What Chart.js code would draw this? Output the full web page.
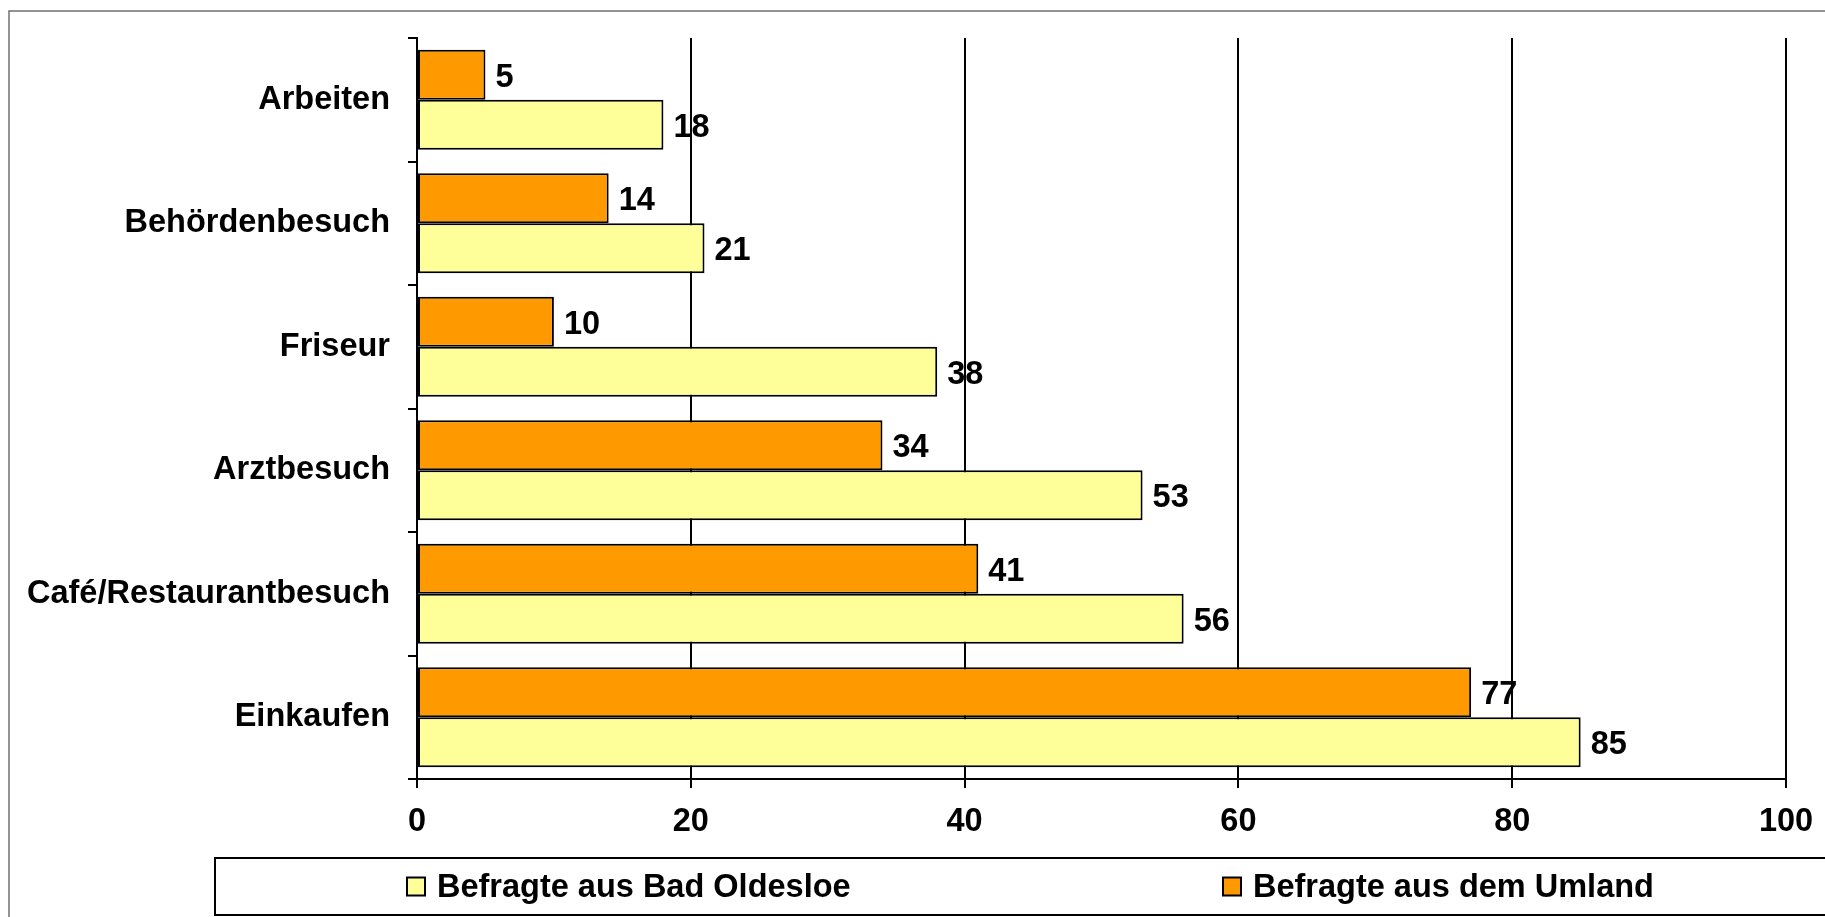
<!DOCTYPE html>
<html>
<head>
<meta charset="utf-8">
<title>Befragte</title>
<script src="https://cdn.jsdelivr.net/npm/chart.js@4/dist/chart.umd.min.js"></script>
<style>
  html, body { margin: 0; padding: 0; background: #fff; overflow: hidden; }
  canvas { display: block; }
</style>
</head>
<body>
<canvas id="chart" width="1825" height="917"></canvas>
<script>
const categories = ["Arbeiten", "Behördenbesuch", "Friseur", "Arztbesuch", "Café/Restaurantbesuch", "Einkaufen"];
const umlandValues = [5, 14, 10, 34, 41, 77];
const oldesloeValues = [18, 21, 38, 53, 56, 85];
const seriesNames = ["Befragte aus dem Umland", "Befragte aus Bad Oldesloe"];
const xTicks = [0, 20, 40, 60, 80, 100];

const FAMILY = "'Liberation Sans', Arial, sans-serif";
const FONT = "bold 32.5px " + FAMILY;

// outer frame (like the pasted Excel chart border)
const framePlugin = {
  id: "frame",
  beforeDraw(chart) {
    const ctx = chart.ctx;
    ctx.save();
    ctx.fillStyle = "#fff";
    ctx.fillRect(0, 0, chart.width, chart.height);
    ctx.strokeStyle = "#707070";
    ctx.lineWidth = 1.5;
    ctx.beginPath();
    ctx.moveTo(9, chart.height + 2);
    ctx.lineTo(9, 11);
    ctx.lineTo(chart.width + 2, 11);
    ctx.stroke();
    ctx.restore();
  }
};

// value labels at the end of every bar
const valueLabels = {
  id: "valueLabels",
  afterDatasetsDraw(chart) {
    const ctx = chart.ctx;
    ctx.save();
    ctx.font = FONT;
    ctx.fillStyle = "#000";
    ctx.textAlign = "left";
    ctx.textBaseline = "middle";
    chart.data.datasets.forEach((ds, i) => {
      chart.getDatasetMeta(i).data.forEach((bar, j) => {
        ctx.fillText(String(ds.data[j]), bar.x + 10, bar.y + 3);
      });
    });
    ctx.restore();
  }
};

// boxed legend below the axis, Bad Oldesloe first
const boxLegend = {
  id: "boxLegend",
  afterDraw(chart) {
    const ctx = chart.ctx;
    const top = chart.chartArea.bottom + 79;
    const bottom = chart.height - 2;
    ctx.save();
    ctx.strokeStyle = "#000";
    ctx.lineWidth = 2;
    ctx.strokeRect(215, top, chart.width, bottom - top);
    const items = chart.data.datasets.slice().reverse();
    const starts = [407, 1223];
    const mid = (top + bottom) / 2;
    ctx.font = FONT;
    ctx.textBaseline = "middle";
    ctx.textAlign = "left";
    items.forEach((ds, k) => {
      const x = starts[k];
      ctx.fillStyle = ds.backgroundColor;
      ctx.fillRect(x, mid - 9, 18, 18);
      ctx.lineWidth = 2;
      ctx.strokeStyle = "#000";
      ctx.strokeRect(x, mid - 9, 18, 18);
      ctx.fillStyle = "#000";
      ctx.fillText(ds.label, x + 30, mid + 2);
    });
    ctx.restore();
  }
};

const ctx = document.getElementById("chart").getContext("2d");
const chart = new Chart(ctx, {
  type: "bar",
  data: {
    labels: categories,
    datasets: [
      {
        label: seriesNames[0],
        data: umlandValues,
        backgroundColor: "#FF9900",
        borderColor: "#000",
        borderWidth: 2,
        borderSkipped: false,
        categoryPercentage: 0.81,
        barPercentage: 1.0,
      },
      {
        label: seriesNames[1],
        data: oldesloeValues,
        backgroundColor: "#FFFF99",
        borderColor: "#000",
        borderWidth: 2,
        borderSkipped: false,
        categoryPercentage: 0.81,
        barPercentage: 1.0,
      },
    ],
  },
  options: {
    indexAxis: "y",
    responsive: false,
    animation: false,
    devicePixelRatio: 1,
    layout: { padding: { top: 38, right: 39, left: 0, bottom: 0 } },
    plugins: {
      legend: { display: false },
      tooltip: { enabled: false },
    },
    scales: {
      x: {
        min: 0,
        max: 100,
        afterBuildTicks(scale) {
          scale.ticks = xTicks.map((v) => ({ value: v }));
        },
        afterFit(scale) {
          scale.height = 138;
          scale.paddingLeft = 0;
          scale.paddingRight = 0;
        },
        ticks: {
          color: "#000",
          font: { family: FAMILY, size: 32.5, weight: "bold" },
          padding: 15,
        },
        grid: {
          color: "#000",
          lineWidth: 2,
          tickLength: 9,
        },
        border: { color: "#000", width: 2 },
      },
      y: {
        afterFit(scale) {
          scale.width = 417;
        },
        ticks: {
          color: "#000",
          font: { family: FAMILY, size: 32.5, weight: "bold" },
          padding: 18,
        },
        grid: {
          drawOnChartArea: false,
          color: "#000",
          lineWidth: 2,
          tickLength: 9,
          offset: true,
        },
        border: { color: "#000", width: 2 },
      },
    },
  },
  plugins: [framePlugin, valueLabels, boxLegend],
});
</script>
</body>
</html>
